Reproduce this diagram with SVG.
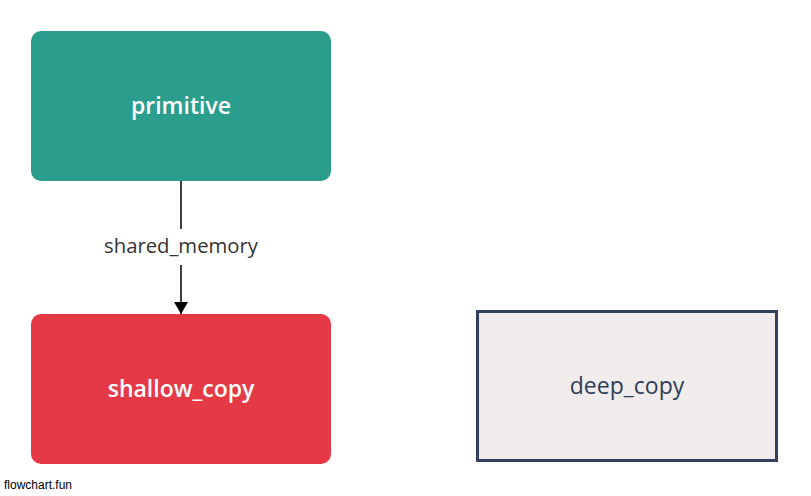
<svg xmlns="http://www.w3.org/2000/svg" width="811" height="496" viewBox="0 0 811 496">
<defs>
<style>
.lbl{font-family:"Open Sans","Noto Sans",sans-serif;text-anchor:middle;dominant-baseline:central}
.b{font-weight:600;font-size:23px;fill:#ffffff}
</style>
<marker id="ah" viewBox="0 0 12 14" refX="12" refY="7" markerWidth="12" markerHeight="14" markerUnits="userSpaceOnUse" orient="auto">
<path d="M0,0 L12,7 L0,14 Z" fill="#000"/>
</marker>
</defs>
<rect width="811" height="496" fill="#fff"/>
<g id="connectors">
<line x1="181" y1="181" x2="181" y2="229" stroke="#000" stroke-width="1.5"/>
<line x1="181" y1="265" x2="181" y2="314" stroke="#000" stroke-width="1.5" marker-end="url(#ah)"/>
<text class="lbl" x="181" y="245" font-size="20.3" fill="#333333">shared_memory</text>
</g>
<g id="primitive">
<rect x="31" y="31" width="300" height="150" rx="10" fill="#2a9d8c"/>
<text class="lbl b" x="181" y="105">primitive</text>
</g>
<g id="shallow_copy">
<rect x="31" y="314" width="300" height="150" rx="10" fill="#e63946"/>
<text class="lbl b" x="181" y="388">shallow_copy</text>
</g>
<g id="deep_copy">
<rect x="477.5" y="311.5" width="299" height="149" fill="#f0ecec" stroke="#334060" stroke-width="3"/>
<text class="lbl" x="627" y="385" font-size="23" fill="#2f3e5c">deep_copy</text>
</g>
<text x="4" y="489" font-family="'Liberation Sans',Arial,sans-serif" font-size="12" fill="#000">flowchart.fun</text>
</svg>
